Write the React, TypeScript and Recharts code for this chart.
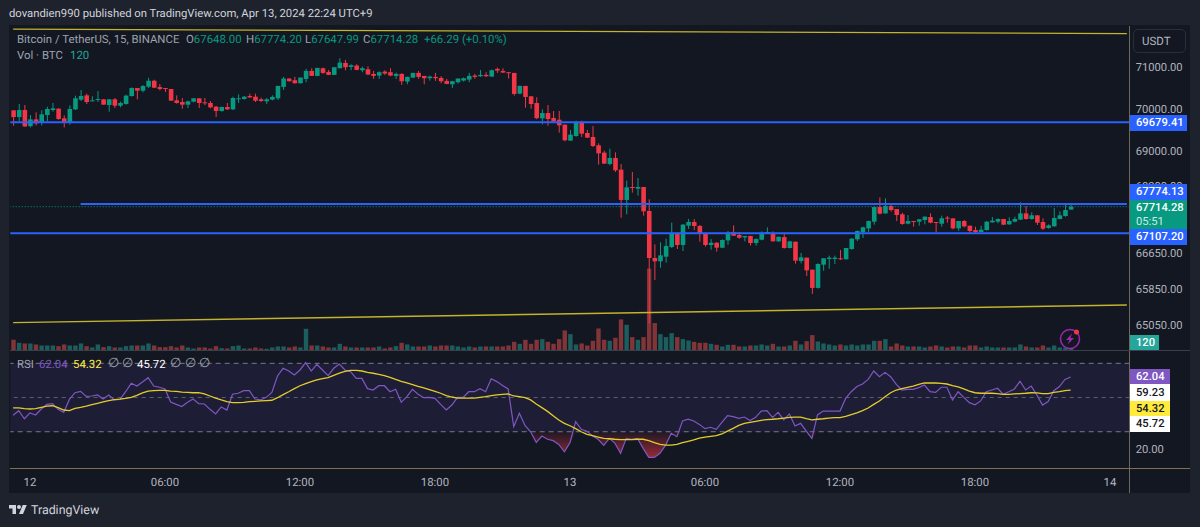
import { Area, Bar, Cell, ComposedChart, Line, ReferenceArea, ReferenceLine, XAxis, YAxis } from 'recharts';
import type { ReactNode } from 'react';

const FONT = 'Roboto, sans-serif';
const UP = '#089981';
const DOWN = '#f23645';
const BLUE = '#2962ff';

// 15 minute bars, bar 0 is Apr 12 00:00
const FIRST_BAR = -3;
const LAST_SLOT = 195;

const opens = [
  69964, 69805, 69972, 69591, 69750, 69671, 69853, 69972, 70004, 69774,
  69687, 69988, 70218, 70321, 70186, 70210, 70226, 70091, 70226, 70075,
  70115, 70305, 70495, 70432, 70527, 70670, 70519, 70495, 70472, 70202,
  70162, 70099, 70170, 70250, 70154, 70139, 70051, 69948, 70043, 69988,
  70234, 70234, 70305, 70289, 70226, 70178, 70218, 70250, 70522, 70722,
  70682, 70610, 70714, 70906, 70786, 70970, 70882, 70810, 70970, 71098,
  71002, 71034, 70922, 70946, 70834, 70794, 70890, 70874, 70786, 70834,
  70650, 70746, 70858, 70786, 70730, 70762, 70738, 70666, 70586, 70634,
  70674, 70698, 70794, 70778, 70810, 70770, 70954, 70906, 70874, 70858,
  70362, 70546, 70298, 70138, 69774, 69900, 69782, 69742, 69625, 69249,
  69358, 69688, 69429, 69335, 69139, 68967, 68703, 68843, 68571, 67870,
  68169, 68130, 68169, 67617, 66547, 66472, 66577, 66795, 67091, 66841,
  67281, 67365, 67274, 67105, 66841, 66893, 66780, 66946, 67128, 67067,
  67014, 67045, 66886, 66961, 67120, 67105, 66924, 67021, 66773, 66916,
  66479, 66555, 66284, 65875, 66397, 66525, 66525, 66540, 66517, 66750,
  66969, 67128, 67219, 67372, 67707, 67562, 67730, 67661, 67540, 67326,
  67387, 67372, 67410, 67479, 67364, 67326, 67464, 67448, 67219, 67387,
  67280, 67181, 67136, 67181, 67357, 67372, 67433, 67311, 67372, 67418,
  67562, 67433, 67517, 67364, 67227, 67265, 67433, 67501, 67648,
];
const highs = [
  69970, 70115, 70091, 69853, 69916, 69964, 70051, 70139, 70012, 69845,
  70083, 70313, 70448, 70361, 70297, 70424, 70226, 70226, 70257, 70170,
  70337, 70511, 70495, 70567, 70741, 70694, 70590, 70495, 70472, 70321,
  70257, 70194, 70250, 70250, 70257, 70186, 70067, 70051, 70139, 70289,
  70345, 70305, 70361, 70361, 70265, 70257, 70322, 70546, 70762, 70730,
  70762, 70746, 70954, 70970, 70978, 70986, 70930, 70994, 71210, 71170,
  71066, 71066, 71010, 71018, 70906, 70898, 70922, 70970, 70866, 70850,
  70770, 70858, 70906, 70786, 70794, 70858, 70778, 70714, 70666, 70722,
  70746, 70858, 70834, 70930, 70874, 70938, 70986, 70970, 70874, 70858,
  70554, 70546, 70298, 70274, 69988, 70091, 69948, 69948, 69625, 69499,
  69719, 69719, 69499, 69593, 69186, 69013, 69060, 68975, 68703, 68315,
  68517, 68377, 68169, 67885, 66856, 66902, 66985, 67349, 67122, 67319,
  67433, 67433, 67296, 67120, 66976, 66901, 66969, 67159, 67288, 67136,
  67045, 67052, 66991, 67151, 67242, 67151, 67029, 67090, 66939, 66916,
  66660, 66555, 66284, 66427, 66540, 66600, 66600, 66727, 66773, 66999,
  67174, 67258, 67395, 67715, 67930, 67906, 67760, 67661, 67578, 67524,
  67387, 67433, 67494, 67562, 67364, 67509, 67501, 67448, 67387, 67410,
  67280, 67258, 67280, 67387, 67479, 67448, 67433, 67471, 67486, 67814,
  67730, 67585, 67517, 67448, 67311, 67684, 67608, 67768, 67774.2,
];
const lows = [
  69599, 69710, 69575, 69560, 69607, 69607, 69710, 69932, 69742, 69560,
  69623, 69972, 70186, 70115, 70178, 70162, 70099, 69932, 70020, 70035,
  70099, 70289, 70226, 70392, 70495, 70495, 70440, 70400, 70186, 70123,
  70004, 70020, 70154, 70020, 70091, 70012, 69805, 69932, 69972, 69972,
  70139, 70218, 70257, 70162, 70162, 70115, 70202, 70210, 70450, 70650,
  70602, 70602, 70634, 70786, 70778, 70834, 70810, 70810, 70970, 70922,
  70922, 70922, 70874, 70810, 70714, 70714, 70810, 70778, 70714, 70570,
  70586, 70730, 70714, 70586, 70674, 70666, 70610, 70586, 70498, 70602,
  70650, 70634, 70714, 70762, 70762, 70762, 70858, 70858, 70722, 70314,
  70346, 70026, 70002, 69754, 69633, 69601, 69664, 69437, 69233, 69249,
  69343, 69335, 69319, 69100, 68688, 68703, 68672, 68517, 67463, 67540,
  68038, 67969, 67509, 65090, 66052, 66330, 66442, 66772, 66750, 66705,
  67205, 67182, 66917, 66803, 66735, 66690, 66773, 66848, 67052, 66984,
  66924, 66826, 66826, 66946, 67105, 66924, 66909, 66758, 66765, 66419,
  66427, 66142, 65741, 65860, 66261, 66306, 66412, 66502, 66517, 66735,
  66931, 66999, 67128, 67303, 67540, 67555, 67600, 67387, 67303, 67311,
  67258, 67280, 67311, 67334, 67136, 67258, 67349, 67197, 67166, 67242,
  67098, 67120, 67120, 67166, 67349, 67334, 67296, 67296, 67357, 67410,
  67418, 67418, 67296, 67181, 67212, 67258, 67425, 67486, 67647.99,
];
const closes = [
  69805, 69972, 69583, 69750, 69655, 69869, 69996, 70012, 69758, 69687,
  69996, 70250, 70305, 70162, 70202, 70234, 70099, 70226, 70075, 70139,
  70313, 70495, 70432, 70543, 70670, 70503, 70472, 70472, 70194, 70139,
  70099, 70178, 70250, 70139, 70139, 70035, 69948, 70043, 69988, 70257,
  70250, 70289, 70273, 70194, 70186, 70226, 70282, 70546, 70722, 70658,
  70610, 70746, 70906, 70786, 70978, 70858, 70810, 70994, 71106, 70994,
  71042, 70930, 70970, 70818, 70786, 70874, 70842, 70794, 70834, 70658,
  70762, 70858, 70762, 70730, 70770, 70730, 70658, 70594, 70658, 70722,
  70730, 70786, 70762, 70810, 70778, 70922, 70914, 70866, 70858, 70354,
  70546, 70282, 70114, 69778, 69900, 69758, 69703, 69609, 69257, 69390,
  69688, 69413, 69319, 69123, 68951, 68711, 68843, 68556, 67870, 68161,
  68153, 68169, 67609, 66547, 66472, 66607, 66818, 67091, 66841, 67304,
  67365, 67274, 67091, 66841, 66893, 66780, 66954, 67128, 67052, 67006,
  67045, 66886, 66976, 67120, 67136, 66924, 67029, 66773, 66924, 66487,
  66562, 66269, 65875, 66412, 66540, 66555, 66555, 66517, 66773, 66984,
  67159, 67242, 67387, 67707, 67555, 67730, 67639, 67524, 67319, 67387,
  67364, 67425, 67486, 67349, 67349, 67448, 67441, 67219, 67387, 67265,
  67159, 67136, 67189, 67372, 67395, 67433, 67303, 67387, 67433, 67562,
  67433, 67517, 67349, 67212, 67288, 67456, 67517, 67639, 67714.28,
];
const volumes = [
  768, 552, 504, 504, 432, 360, 360, 360, 312, 432,
  360, 360, 504, 312, 216, 432, 240, 312, 216, 216,
  312, 360, 360, 360, 504, 360, 240, 240, 312, 216,
  360, 216, 144, 216, 216, 144, 312, 168, 144, 312,
  360, 144, 144, 216, 144, 120, 216, 288, 288, 216,
  288, 216, 1560, 360, 360, 288, 216, 216, 480, 288,
  216, 216, 216, 216, 216, 288, 144, 216, 312, 552,
  432, 288, 288, 288, 360, 288, 360, 360, 360, 288,
  216, 288, 216, 288, 288, 288, 288, 288, 360, 624,
  480, 768, 480, 768, 816, 624, 480, 816, 1440, 1176,
  432, 504, 360, 696, 1584, 768, 696, 912, 2232, 1848,
  960, 768, 960, 5880, 1968, 1176, 960, 1248, 960, 816,
  720, 624, 552, 552, 480, 408, 288, 408, 408, 288,
  288, 360, 360, 432, 360, 480, 288, 288, 360, 696,
  432, 672, 1104, 648, 504, 432, 360, 432, 360, 432,
  360, 432, 432, 696, 696, 816, 288, 504, 360, 288,
  288, 288, 216, 288, 360, 288, 216, 288, 288, 216,
  360, 360, 216, 288, 216, 216, 216, 216, 216, 432,
  288, 216, 216, 360, 216, 360, 216, 216, 120,
];
const rsiValues = [
  39.6, 42.3, 37.6, 41.0, 39.8, 43.3, 46.0, 46.4, 43.1, 41.3,
  48.9, 52.8, 53.6, 50.7, 50.9, 51.5, 49.1, 51.5, 48.6, 48.9,
  53.4, 58.3, 56.7, 59.1, 61.6, 56.7, 56.0, 55.0, 47.4, 46.0,
  44.7, 47.2, 49.1, 46.4, 46.2, 43.1, 40.4, 44.5, 42.7, 51.9,
  52.5, 54.0, 54.0, 49.1, 48.6, 50.1, 53.0, 62.6, 67.1, 65.5,
  63.2, 66.1, 70.4, 65.5, 69.4, 66.1, 62.8, 67.1, 69.6, 66.1,
  65.1, 61.2, 61.2, 55.2, 54.4, 56.9, 56.9, 53.4, 54.8,
  47.2, 50.5, 54.8, 51.9, 49.9, 50.1, 49.5, 46.0, 42.7, 45.6,
  50.1, 50.1, 53.4, 53.4, 55.2, 53.4, 61.0, 59.3, 57.1, 55.0,
  33.0, 40.8, 33.7, 30.0, 23.8, 27.5, 25.6, 24.8, 22.6, 18.3,
  23.6, 35.9, 31.4, 30.2, 27.5, 25.6, 22.0, 26.1, 23.2, 17.4,
  26.1, 25.6, 26.1, 20.3, 15.0, 15.0, 17.4, 22.2, 29.1, 27.1,
  36.3, 37.3, 36.3, 34.3, 31.8, 32.6, 31.4, 35.5, 39.4, 38.8,
  37.8, 38.6, 36.5, 38.4, 42.1, 42.3, 38.4, 41.3, 36.9, 40.4,
  33.4, 34.9, 30.4, 26.1, 39.8, 42.1, 42.1, 42.1, 42.1, 49.5,
  53.4, 56.4, 57.9, 60.6, 65.5, 62.2, 64.7, 62.2, 57.7, 54.4,
  54.8, 54.8, 55.8, 57.3, 53.4, 53.0, 56.0, 56.0, 48.6, 53.4,
  50.1, 47.0, 45.8, 48.0, 53.4, 54.4, 55.4, 51.9, 53.4, 55.0,
  59.5, 54.4, 56.7, 51.5, 45.6, 47.6, 54.0, 56.4, 60.6, 62.04,
];
const rsiMaValues = [
  43.9, 43.9, 43.5, 43.3, 43.5, 44.3, 45.0, 45.2, 44.1, 42.7,
  42.3, 43.7, 44.3, 45.0, 45.8, 46.6, 47.4, 48.2, 48.8, 49.1,
  49.5, 50.1, 51.3, 52.7, 53.8, 54.0, 54.2, 54.2, 53.8, 53.6,
  53.2, 53.0, 52.8, 52.8, 52.1, 50.9, 49.7, 48.6, 47.6, 47.0,
  47.0, 47.2, 47.6, 47.8, 48.0, 48.2, 48.4, 49.9, 51.7, 53.4,
  55.2, 56.9, 58.1, 59.3, 60.3, 61.0, 61.6, 63.0, 64.3, 65.3,
  65.9, 65.9, 65.5, 64.7, 64.2, 63.6, 62.8, 61.8, 60.6,
  59.5, 58.5, 57.5, 56.5, 55.6, 54.6, 53.6, 52.5, 51.1, 50.3,
  49.7, 49.7, 49.7, 49.7, 50.1, 50.5, 51.1, 51.5, 51.9, 52.1,
  50.9, 50.5, 49.9, 48.6, 46.2, 44.1, 41.9, 39.4, 36.9, 34.9,
  33.5, 31.8, 30.0, 28.5, 27.7, 26.9, 26.1, 25.9, 25.6, 25.4,
  25.4, 25.4, 25.6, 25.6, 24.8, 23.6, 22.6, 22.2, 22.2, 22.6,
  23.6, 24.4, 25.2, 26.3, 26.9, 27.3, 27.7, 28.7, 30.4, 32.0,
  33.7, 34.9, 35.5, 36.1, 36.7, 37.1, 37.3, 37.6, 38.0, 38.4,
  38.6, 38.6, 37.6, 36.9, 37.3, 37.6, 38.0, 38.2, 38.2, 39.0,
  40.0, 41.0, 42.3, 43.9, 46.0, 48.0, 50.5, 52.8, 54.4, 55.2,
  56.0, 56.7, 57.7, 58.5, 58.5, 58.5, 58.3, 57.9, 56.9, 56.2,
  55.0, 53.8, 52.8, 52.5, 52.5, 52.5, 52.3, 51.9, 51.9, 52.1,
  52.3, 52.5, 52.8, 52.7, 52.3, 52.3, 53.0, 53.4, 54.0, 54.32,
];

const priceTicks = [71000, 70000, 69000, 68200, 66650, 65850, 65050];
const timeTicks = [0, 24, 48, 72, 96, 120, 144, 168, 192];
const timeLabels = ['12', '06:00', '12:00', '18:00', '13', '06:00', '12:00', '18:00', '14'];

const support = 67107.2;
const resistance = 69679.41;
const midLevel = 67774.13;
const lastPrice = 67714.28;
const upperTrend = [71918, 71809];
const lowerTrend = [65105, 65495];

const slots = Array.from({ length: LAST_SLOT - FIRST_BAR + 1 }, (_, i) => i + FIRST_BAR);

const rows = slots.map((bar, i) => {
  const filled = i < opens.length;
  return {
    bar,
    open: opens[i],
    close: closes[i],
    range: filled ? [lows[i], highs[i]] : undefined,
    volume: volumes[i],
    rsi: rsiValues[i],
    rsiMa: rsiMaValues[i],
    oversold: filled ? [Math.min(rsiValues[i], 30), 30] : undefined,
  };
});

const Candle = ({ x, y, width, height, payload }: any) => {
  if (!payload?.range) return null;
  const [low, high] = payload.range;
  const h = Math.abs(height);
  const toY = (p: number) => y + (h * Math.log(high / p)) / Math.log(high / low);
  const color = payload.close >= payload.open ? UP : DOWN;
  const top = toY(Math.max(payload.open, payload.close));
  const bottom = toY(Math.min(payload.open, payload.close));
  return (
    <g>
      <rect x={x + width / 2 - 0.5} y={y} width={1} height={h} fill={color} />
      <rect x={x} y={top} width={width} height={Math.max(bottom - top, 1)} fill={color} />
    </g>
  );
};

const Txt = ({ x, y, color = '#9ea2ad', size = 11.4, children }: { x: number; y: number; color?: string; size?: number; children: ReactNode }) => (
  <div style={{ position: 'absolute', left: x, top: y - 8, height: 16, lineHeight: '16px', fontSize: size, color, whiteSpace: 'nowrap' }}>{children}</div>
);

const Pill = ({ top, height, width = 57, bg, color = '#fff', children }: { top: number; height: number; width?: number; bg: string; color?: string; children: ReactNode }) => (
  <div style={{ position: 'absolute', left: 1130, top, width, height, background: bg, color, fontSize: 11.2, fontWeight: 500, paddingLeft: 6, boxSizing: 'border-box', lineHeight: '14px', display: 'flex', flexDirection: 'column', justifyContent: 'center' }}>{children}</div>
);

export default function App() {
  return (
    <div style={{ position: 'absolute', left: 0, top: 0, width: 1200, height: 527, overflow: 'hidden', background: '#1e222d', fontFamily: FONT, textRendering: 'geometricPrecision' }}>
      <div style={{ position: 'absolute', left: 9, top: 25, width: 1181, height: 468, background: '#131722' }} />

      {/* price pane, volume sits on its own axis at the bottom */}
      <div style={{ position: 'absolute', left: 0, top: 0 }}>
        <ComposedChart width={1200} height={527} data={rows} margin={{ top: 26, right: 10.3, bottom: 176.5, left: 10.3 }} barGap={0}>
          <XAxis xAxisId="candles" dataKey="bar" hide />
          <XAxis xAxisId="vol" dataKey="bar" hide />
          <YAxis
            yAxisId="price"
            orientation="right"
            scale="log"
            domain={[64492, 71994]}
            allowDataOverflow
            ticks={priceTicks}
            tickFormatter={(v: number) => v.toFixed(2)}
            tick={{ fill: '#b2b5be', fontSize: 11.2, fontFamily: FONT }}
            axisLine={false}
            tickLine={false}
            tickMargin={0}
            width={60}
          />
          <YAxis yAxisId="vol" hide domain={[0, 23300]} />
          <Bar xAxisId="vol" yAxisId="vol" dataKey="volume" barSize={4.4} isAnimationActive={false}>
            {rows.map((r) => (
              <Cell key={r.bar} fill={r.close >= r.open ? '#26a69a' : '#ef5350'} fillOpacity={0.5} />
            ))}
          </Bar>
          <ReferenceLine xAxisId="candles" yAxisId="price" y={resistance} stroke={BLUE} strokeWidth={2} />
          <ReferenceLine xAxisId="candles" yAxisId="price" y={support} stroke={BLUE} strokeWidth={2} />
          <ReferenceLine xAxisId="candles" yAxisId="price" y={lastPrice} stroke={UP} strokeWidth={1} strokeDasharray="1 2" />
          <ReferenceLine xAxisId="candles" yAxisId="price" stroke={BLUE} strokeWidth={2} segment={[{ x: 9, y: midLevel }, { x: LAST_SLOT, y: midLevel }]} />
          <ReferenceLine xAxisId="candles" yAxisId="price" stroke="#c4b32c" strokeWidth={1.4} segment={[{ x: FIRST_BAR, y: upperTrend[0] }, { x: LAST_SLOT, y: upperTrend[1] }]} />
          <ReferenceLine xAxisId="candles" yAxisId="price" stroke="#c4b32c" strokeWidth={1.4} segment={[{ x: FIRST_BAR, y: lowerTrend[0] }, { x: LAST_SLOT, y: lowerTrend[1] }]} />
          <Bar xAxisId="candles" yAxisId="price" dataKey="range" barSize={4.6} shape={Candle} isAnimationActive={false} />
        </ComposedChart>
      </div>

      {/* RSI pane with the time axis */}
      <div style={{ position: 'absolute', left: 0, top: 0 }}>
        <ComposedChart width={1200} height={527} data={rows} margin={{ top: 351, right: 10.3, bottom: 36, left: 10.3 }}>
          <defs>
            <linearGradient id="oversoldFill" x1="0" y1="0" x2="0" y2="1">
              <stop offset="0%" stopColor="#f23645" stopOpacity={0.05} />
              <stop offset="100%" stopColor="#f23645" stopOpacity={0.6} />
            </linearGradient>
          </defs>
          <XAxis
            dataKey="bar"
            scale="band"
            ticks={timeTicks}
            interval={0}
            tickFormatter={(v: number) => timeLabels[timeTicks.indexOf(v)]}
            tick={{ fill: '#b2b5be', fontSize: 11.4, fontFamily: FONT }}
            axisLine={false}
            tickLine={false}
            height={23}
            tickMargin={4}
          />
          <YAxis
            orientation="right"
            domain={[8.8, 77.2]}
            allowDataOverflow
            ticks={[20]}
            tickFormatter={(v: number) => v.toFixed(2)}
            tick={{ fill: '#b2b5be', fontSize: 11.2, fontFamily: FONT }}
            axisLine={false}
            tickLine={false}
            tickMargin={0}
            width={60}
          />
          <ReferenceArea y1={30} y2={70} fill="#1e1d36" fillOpacity={1} stroke="none" />
          <ReferenceLine y={70} stroke="#787b86" strokeDasharray="5 4" />
          <ReferenceLine y={50} stroke="#787b86" strokeOpacity={0.7} strokeDasharray="4 4" />
          <ReferenceLine y={30} stroke="#787b86" strokeDasharray="5 4" />
          <Area dataKey="oversold" stroke="none" fill="url(#oversoldFill)" fillOpacity={1} dot={false} activeDot={false} isAnimationActive={false} />
          <Line dataKey="rsi" stroke="#7e57c2" strokeWidth={1.2} dot={false} activeDot={false} isAnimationActive={false} />
          <Line dataKey="rsiMa" stroke="#e3cd2b" strokeWidth={1.3} dot={false} activeDot={false} isAnimationActive={false} />
        </ComposedChart>
      </div>

      {/* pane separators */}
      <div style={{ position: 'absolute', left: 1129, top: 26, width: 1, height: 467, background: '#6f6a58' }} />
      <div style={{ position: 'absolute', left: 10, top: 350, width: 1180, height: 1, background: '#3b3f4b' }} />
      <div style={{ position: 'absolute', left: 10, top: 468, width: 1180, height: 1, background: '#80704f' }} />

      <Txt x={9} y={14} color="#d1d4dc" size={11.3}>dovandien990 published on TradingView.com, Apr 13, 2024 22:24 UTC+9</Txt>

      <Txt x={17} y={39}>Bitcoin / TetherUS, 15, BINANCE</Txt>
      <Txt x={186} y={39}>O<span style={{ color: UP }}>67648.00</span></Txt>
      <Txt x={246} y={39}>H<span style={{ color: UP }}>67774.20</span></Txt>
      <Txt x={305} y={39}>L<span style={{ color: UP }}>67647.99</span></Txt>
      <Txt x={363} y={39}>C<span style={{ color: UP }}>67714.28</span></Txt>
      <Txt x={424} y={39} color={UP}>+66.29 (+0.10%)</Txt>
      <Txt x={17} y={55}>Vol · BTC</Txt>
      <Txt x={70} y={55} color="#26a69a">120</Txt>

      <Txt x={17} y={364}>RSI</Txt>
      <Txt x={39} y={364} color="#7e57c2">62.04</Txt>
      <Txt x={73} y={364} color="#ffeb3b">54.32</Txt>
      <Txt x={108} y={364} size={13}>∅</Txt>
      <Txt x={122} y={364} size={13}>∅</Txt>
      <Txt x={137} y={364} color="#ffffff">45.72</Txt>
      <Txt x={170} y={364} size={13}>∅</Txt>
      <Txt x={185} y={364} size={13}>∅</Txt>
      <Txt x={199} y={364} size={13}>∅</Txt>

      <div style={{ position: 'absolute', left: 1133, top: 29, width: 53, height: 24, border: '1px solid #2a2e39', borderRadius: 5, boxSizing: 'border-box', color: '#b2b5be', fontSize: 11.5, lineHeight: '22px', paddingLeft: 8 }}>USDT</div>

      <Pill top={115} height={16} bg={BLUE}>69679.41</Pill>
      <Pill top={184} height={16} bg={BLUE}>67774.13</Pill>
      <Pill top={200} height={29} bg={UP}>
        <span>67714.28</span>
        <span style={{ color: '#cfe9e3', fontWeight: 400 }}>05:51</span>
      </Pill>
      <Pill top={229} height={16} bg={BLUE}>67107.20</Pill>
      <Pill top={335} height={15} width={29} bg="#26a69a">120</Pill>

      <Pill top={369} height={15} width={40} bg="#7e57c2">62.04</Pill>
      <Pill top={384} height={17} width={40} bg="#ffffff" color="#131722">59.23</Pill>
      <Pill top={401} height={15} width={40} bg="#ffeb3b" color="#131722">54.32</Pill>
      <Pill top={416} height={16} width={40} bg="#ffffff" color="#131722">45.72</Pill>

      <svg style={{ position: 'absolute', left: 1058, top: 327 }} width={24} height={24}>
        <circle cx={12} cy={12} r={9.5} fill="none" stroke="#9c27b0" strokeWidth={1.5} />
        <path d="M14 6.5 L8 13 L11.5 13 L9.5 17.5 L16 11 L12.5 11 Z" fill="#9c27b0" />
        <circle cx={18.5} cy={5} r={2.5} fill="#f23645" />
      </svg>

      <svg style={{ position: 'absolute', left: 9, top: 503 }} width={18} height={14} viewBox="0 0 36 28">
        <path d="M14 22H7V11H0V4h14v18zM28 22h-8l7.5-18h8L28 22z" fill="#d1d4dc" />
        <circle cx={20} cy={8} r={4} fill="#d1d4dc" />
      </svg>
      <Txt x={31} y={511} color="#d1d4dc" size={12.4}>TradingView</Txt>
    </div>
  );
}
